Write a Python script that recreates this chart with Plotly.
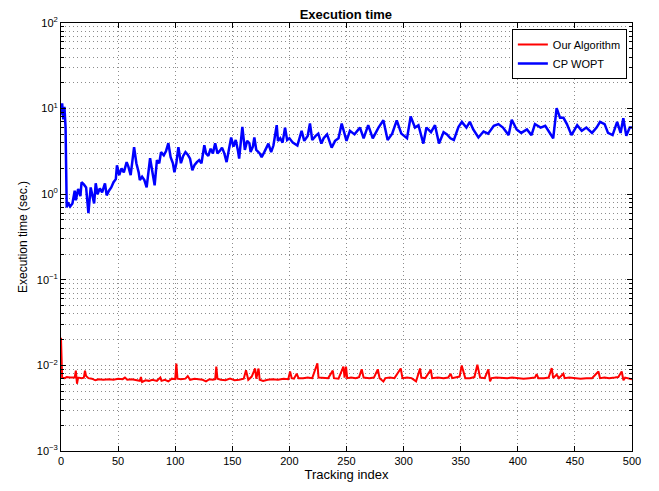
import plotly.graph_objects as go

# ---- data ----
blue_x = [0, 1, 2, 3, 4, 5, 6, 8, 10, 12, 13, 15, 17, 18, 20, 22, 24, 26, 28, 29, 30.4, 32, 34, 36,
          38.5, 40, 42, 44, 46, 48, 49, 51, 53, 55, 57.5, 59, 61, 64, 66, 68, 69, 71, 73, 75, 78, 80,
          82, 84, 86, 87.6, 90, 92, 94, 96, 98, 99.3, 101, 102.8, 105, 107, 109, 111, 113, 115, 117,
          119, 121, 123, 125.5, 127, 129, 131, 133, 135, 137, 139, 141, 143, 145, 147, 149, 151, 153,
          155, 156, 158.8, 161, 163, 165, 166, 168, 169.3, 171, 174, 175.7, 178, 181.6, 184, 186,
          188.9, 190, 192, 194, 196.2, 198, 200, 203, 207, 210.7, 213, 216, 218, 220, 223, 225.3,
          228, 230, 233, 237, 240, 243, 245.8, 250, 253, 257, 261.8, 265, 269, 273, 278, 282.3, 286,
          290, 294, 298, 303, 306.2, 310, 313, 317.3, 320, 324, 327.5, 331, 335, 338, 341, 344, 348,
          351, 355, 358, 361, 365.5, 370, 374, 379, 383, 387, 392, 394.7, 399, 403, 408, 412, 415,
          420, 424, 428, 431, 434, 437, 440, 443, 447, 452, 456, 460, 465, 469, 472, 476, 479, 483,
          487, 490, 492.4, 495, 498, 500]
blue_y = [8.5, 11.5, 7.5, 10.5, 6.0, 0.70, 0.80, 0.72, 0.78, 1.1, 0.85, 1.15, 0.95, 1.38, 1.3, 1.2,
          0.6, 1.2, 0.9, 0.78, 1.34, 1.0, 1.17, 1.05, 1.34, 0.97, 1.1, 1.2, 1.38, 1.5, 2.18, 1.67,
          2.0, 1.8, 2.37, 2.1, 1.67, 3.55, 2.3, 1.8, 1.46, 1.6, 1.46, 1.2, 2.63, 1.8, 1.27, 2.5, 2.3,
          3.1, 2.85, 3.2, 3.94, 2.7, 2.3, 1.8, 2.3, 3.55, 2.3, 2.8, 3.1, 2.9, 2.6, 1.9, 2.2, 2.37,
          2.5, 2.3, 3.74, 3.0, 2.8, 3.4, 3.0, 3.94, 3.0, 3.2, 3.5, 3.0, 2.37, 3.3, 4.6, 3.6, 4.3,
          3.2, 2.6, 6.1, 3.3, 4.2, 3.94, 3.1, 3.6, 4.6, 3.3, 3.0, 2.7, 3.1, 3.9, 3.1, 3.7, 6.4, 4.2,
          4.5, 4.0, 6.0, 4.3, 4.5, 4.0, 3.7, 5.5, 4.2, 4.8, 6.7, 4.3, 4.8, 5.1, 3.9, 4.5, 5.0, 3.5,
          4.2, 4.5, 6.7, 4.2, 5.5, 5.0, 6.0, 4.5, 6.4, 4.5, 6.0, 7.3, 4.3, 5.1, 7.3, 5.1, 4.5, 8.1,
          6.0, 6.4, 3.9, 6.0, 5.3, 6.4, 3.9, 5.3, 5.0, 4.5, 4.3, 6.1, 7.0, 6.0, 7.0, 5.7, 4.6, 5.4,
          5.1, 6.3, 6.6, 6.0, 4.9, 7.4, 5.7, 5.2, 5.7, 4.9, 6.6, 6.0, 6.3, 5.1, 4.5, 10.1, 7.8, 7.8,
          6.6, 4.9, 6.4, 5.5, 6.0, 5.2, 6.0, 7.0, 6.6, 5.2, 4.9, 7.0, 5.2, 7.7, 4.8, 6.0, 6.0]

red_x = [0, 1, 3, 5, 8, 11, 12, 13, 14, 15, 18, 20, 21, 22, 24, 27, 30, 33, 37, 42, 46, 50, 54, 56,
         58, 62, 66, 69, 70, 71, 74, 77, 80, 84, 87, 88, 91, 94, 97, 100, 101, 102, 105, 109, 111,
         113, 117, 120, 124, 127, 130, 133, 135, 136, 137, 140, 144, 148, 152, 156, 160, 162, 164,
         167, 170, 171, 173, 174, 177, 181, 185, 190, 195, 199, 200.6, 202, 204, 206.4, 208, 212,
         216, 220, 224.5, 225.5, 230, 234, 238, 239, 243, 247.3, 248.3, 249.6, 250.6, 254, 258, 261,
         263.3, 265, 270, 274, 277.4, 279, 282.3, 284, 288, 292, 297.5, 299, 303, 307, 310.9, 312,
         314.4, 315.5, 319, 323.8, 325, 330, 335, 339, 341.2, 342.5, 346, 349, 350.9, 352.5, 354,
         358, 362, 364.6, 366, 367, 371, 374.2, 375.7, 377, 381, 386, 391, 395, 400, 405, 410, 415,
         416.5, 418, 423, 427, 429.7, 431, 434, 436, 439.9, 441, 445, 450, 455, 460, 465, 470.6,
         472, 476, 480, 485, 488, 491, 492.5, 494, 497, 500]
red_y = [0.021, 0.0072, 0.0071, 0.0073, 0.0072, 0.0071, 0.0072, 0.0087, 0.0061, 0.0072, 0.0071,
         0.0072, 0.0087, 0.0075, 0.0071, 0.0070, 0.0067, 0.0069, 0.0068, 0.0069, 0.0068, 0.0070,
         0.0069, 0.0072, 0.0068, 0.0069, 0.0068, 0.0066, 0.0073, 0.0064, 0.0067, 0.0066, 0.0068,
         0.0066, 0.0072, 0.0066, 0.0068, 0.0065, 0.0070, 0.0069, 0.0105, 0.0070, 0.0069, 0.0070,
         0.0075, 0.0068, 0.0070, 0.0069, 0.0068, 0.0065, 0.0069, 0.0068, 0.0069, 0.0097, 0.0070,
         0.0068, 0.0067, 0.0070, 0.0067, 0.0068, 0.0070, 0.0088, 0.0068, 0.0074, 0.0092, 0.0070,
         0.0092, 0.0068, 0.0066, 0.0068, 0.0069, 0.0068, 0.0070, 0.0069, 0.0085, 0.0071, 0.0070,
         0.0080, 0.0071, 0.0071, 0.0072, 0.0071, 0.0106, 0.0072, 0.0072, 0.0071, 0.0087, 0.0071,
         0.0070, 0.0097, 0.0072, 0.0097, 0.0071, 0.0072, 0.0071, 0.0073, 0.0090, 0.0072, 0.0071,
         0.0072, 0.0090, 0.0071, 0.0065, 0.0071, 0.0072, 0.0071, 0.0092, 0.0071, 0.0072, 0.0071,
         0.0065, 0.0072, 0.0092, 0.0072, 0.0071, 0.0089, 0.0071, 0.0072, 0.0071, 0.0072, 0.0080,
         0.0071, 0.0072, 0.0074, 0.0100, 0.0080, 0.0071, 0.0071, 0.0073, 0.0102, 0.0078, 0.0072,
         0.0071, 0.0090, 0.0065, 0.0071, 0.0072, 0.0071, 0.0071, 0.0072, 0.0071, 0.0070, 0.0071,
         0.0072, 0.0079, 0.0071, 0.0071, 0.0072, 0.0093, 0.0071, 0.0078, 0.0071, 0.0080, 0.0071,
         0.0072, 0.0071, 0.0070, 0.0071, 0.0071, 0.0085, 0.0071, 0.0072, 0.0071, 0.0072, 0.0073,
         0.0085, 0.0067, 0.0072, 0.0071, 0.0069]

x_ticks = [0, 50, 100, 150, 200, 250, 300, 350, 400, 450, 500]
y_ticks = [1e-3, 1e-2, 1e-1, 1e0, 1e1, 1e2]
y_tick_text = ["10<sup>\u22123</sup>", "10<sup>\u22122</sup>", "10<sup>\u22121</sup>",
               "10<sup>0</sup>", "10<sup>1</sup>", "10<sup>2</sup>"]

FONT = "Liberation Sans, Arial, Helvetica, sans-serif"
GRID = "#8c8c8c"
DOT = "1px,3px"

fig = go.Figure()
fig.add_trace(go.Scatter(x=red_x, y=red_y, mode="lines", name="Our Algorithm",
                         line=dict(color="#ff0000", width=2)))
fig.add_trace(go.Scatter(x=blue_x, y=blue_y, mode="lines", name="CP WOPT",
                         line=dict(color="#0000ff", width=2.5)))

fig.update_layout(
    width=651, height=483,
    margin=dict(l=53, r=27, t=15, b=40),
    paper_bgcolor="white", plot_bgcolor="white",
    font=dict(family=FONT, size=11, color="black"),
    title=dict(text="<b>Execution time</b>", x=0.519, xanchor="center", y=0.986, yanchor="middle",
               font=dict(size=13, family=FONT)),
    showlegend=True,
    legend=dict(x=0.991, y=0.986, xanchor="right", yanchor="top",
                bgcolor="white", bordercolor="black", borderwidth=1,
                font=dict(size=11, family=FONT), tracegroupgap=0),
)
fig.update_xaxes(
    range=[0, 500], tickvals=x_ticks, ticks="inside", ticklen=5, tickcolor="black",
    showline=True, linecolor="black", linewidth=1, mirror="allticks", automargin=False,
    showgrid=True, gridcolor=GRID, griddash=DOT, gridwidth=1, zeroline=False,
    tickfont=dict(size=11),
    title=dict(text="Tracking index", font=dict(size=13, family=FONT), standoff=1),
)
fig.update_yaxes(
    type="log", range=[-3, 2], tickmode="array", tickvals=y_ticks, ticktext=y_tick_text,
    ticks="inside", ticklen=5, tickcolor="black",
    showline=True, linecolor="black", linewidth=1, mirror="allticks", automargin=False,
    showgrid=True, gridcolor=GRID, griddash=DOT, gridwidth=1, zeroline=False,
    tickfont=dict(size=11),
    minor=dict(dtick="D1", ticks="inside", ticklen=3, tickcolor="black", showgrid=True,
               gridcolor=GRID, griddash=DOT, gridwidth=1),
    title=dict(text="Execution time (sec.)", font=dict(size=12, family=FONT), standoff=6),
)

fig.write_html("out.html")
